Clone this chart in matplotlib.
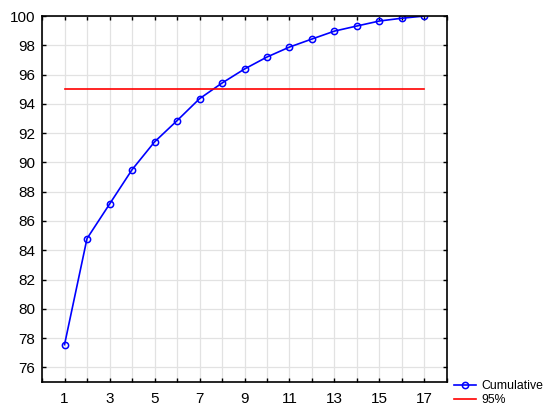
import matplotlib.pyplot as plt
from matplotlib.ticker import MultipleLocator

plt.rcParams['font.family'] = ['Liberation Sans', 'DejaVu Sans']

# values
components = list(range(1, 18))
cumulative = [77.55, 84.8, 87.15, 89.5, 91.4, 92.85, 94.35, 95.42, 96.38, 97.2,
              97.88, 98.43, 98.97, 99.32, 99.66, 99.85, 100.0]
threshold = 95.0

fig = plt.figure(figsize=(5.5, 4.15), dpi=100)
ax = fig.add_axes([0.0764, 0.0795, 0.7363, 0.8819])

ax.plot(components, cumulative, color='blue', lw=1.2, marker='o', ms=4.5,
        mfc='none', mec='blue', mew=1.1, label='Cumulative')
ax.plot([components[0], components[-1]], [threshold, threshold], color='red',
        lw=1.2, label='95%')

ax.set_xlim(0, 18)
ax.set_ylim(75, 100)
ax.xaxis.set_major_locator(plt.FixedLocator(components[::2]))
ax.xaxis.set_minor_locator(MultipleLocator(1))
ax.yaxis.set_major_locator(MultipleLocator(2))
ax.grid(True, which='both', axis='x', color='#e2e2e2', lw=0.9)
ax.grid(True, which='major', axis='y', color='#e2e2e2', lw=0.9)
ax.set_axisbelow(True)
ax.tick_params(which='both', direction='in', top=True, right=True,
               labelsize=11, length=3, width=1, pad=5)
ax.tick_params(axis='x', which='major', pad=7)
for s in ax.spines.values():
    s.set_linewidth(1.2)

ax.legend(loc='upper left', bbox_to_anchor=(1.0, 0.025), frameon=False,
          fontsize=8.8, handlelength=1.8, borderaxespad=0.2, labelspacing=0.15,
          handletextpad=0.4)

fig.savefig('out.png', dpi=100)
